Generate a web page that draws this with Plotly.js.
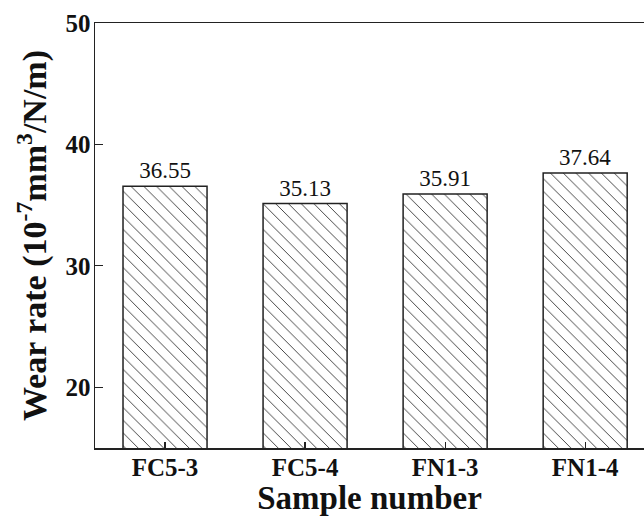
<!DOCTYPE html>
<html>
<head>
<meta charset="utf-8">
<script src="https://cdn.plot.ly/plotly-3.0.1.min.js"></script>
<style>
  html, body { margin: 0; padding: 0; background: #fff; overflow: hidden; }
  #chart { width: 644px; height: 518px; }
</style>
</head>
<body>
<div id="chart"></div>
<script>
// Wear rate per sample
const samples = ['FC5-3', 'FC5-4', 'FN1-3', 'FN1-4'];
const wearRate = [36.55, 35.13, 35.91, 37.64];
const yTicks = [20, 30, 40, 50];

const serif = 'Liberation Serif';

const trace = {
  type: 'bar',
  x: samples,
  y: wearRate,
  width: 0.6,
  text: wearRate.map(v => v.toFixed(2)),
  textposition: 'outside',
  cliponaxis: false,
  textfont: { family: serif, size: 23, color: '#111' },
  marker: {
    color: '#fff',
    line: { color: '#222', width: 1.5 },
    pattern: { shape: '\\', fgcolor: '#333', bgcolor: '#fff', size: 9, solidity: 0.1, fillmode: 'replace' }
  },
  hoverinfo: 'skip'
};

const layout = {
  width: 644,
  height: 518,
  margin: { l: 95, r: 0, t: 23, b: 70 },
  paper_bgcolor: '#fff',
  plot_bgcolor: '#fff',
  showlegend: false,
  xaxis: {
    type: 'category',
    range: [-0.5, 3.42],
    tickvals: samples,
    ticktext: samples.map(s => '<b>' + s + '</b>'),
    showline: true,
    linecolor: '#222',
    linewidth: 1.5,
    mirror: true,
    ticks: 'inside',
    ticklen: 6,
    tickwidth: 1.2,
    tickcolor: '#222',
    showgrid: false,
    ticklabelstandoff: -4,
    tickfont: { family: serif, size: 25, color: '#111' },
    title: { text: '<b>Sample number</b>', font: { family: serif, size: 33, color: '#111' }, standoff: 4 }
  },
  yaxis: {
    range: [15, 50],
    tickvals: yTicks,
    ticktext: yTicks.map(v => '<b>' + v + '</b>'),
    showline: true,
    linecolor: '#222',
    linewidth: 1.5,
    mirror: false,
    ticks: 'inside',
    ticklen: 8,
    tickwidth: 1.2,
    tickcolor: '#222',
    showgrid: false,
    zeroline: false,
    ticklabelstandoff: -2,
    tickfont: { family: serif, size: 25, color: '#111' },
    title: { text: '<b>Wear rate (10<sup>-7</sup>mm<sup>3</sup>/N/m)</b>', font: { family: serif, size: 34, color: '#111' }, standoff: 8 }
  }
};

Plotly.newPlot('chart', [trace], layout, { displayModeBar: false, staticPlot: true });
</script>
</body>
</html>
